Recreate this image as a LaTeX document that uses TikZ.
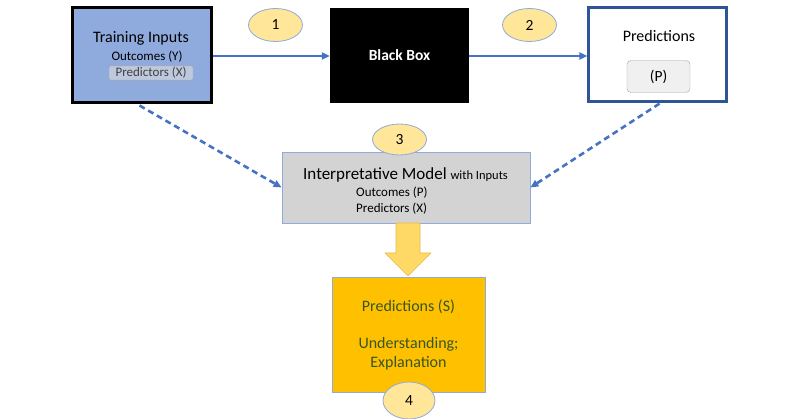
\documentclass[tikz,border=0pt]{standalone}
\usepackage{fontspec}
\setmainfont{Carlito}
\usetikzlibrary{arrows.meta,shapes.geometric}

\definecolor{trainblue}{HTML}{8FAADC}
\definecolor{linkblue}{HTML}{4472C4}
\definecolor{darkblue}{HTML}{2F5597}
\definecolor{stepyellow}{HTML}{FFE699}
\definecolor{modelgray}{HTML}{D3D3D3}
\definecolor{outgold}{HTML}{FFC000}
\definecolor{outgreen}{HTML}{375623}
\definecolor{bigarrow}{HTML}{FFD966}
\definecolor{bigarrowline}{HTML}{E8B84A}

\begin{document}
\begin{tikzpicture}[x=1pt,y=-1pt,
		stepnum/.style={ellipse,draw=trainblue,fill=stepyellow,line width=0.8pt,
			minimum width=54pt,minimum height=33pt,inner sep=0pt,font=\fontsize{15.5}{18}\selectfont},
		link/.style={linkblue,line width=2pt,-{Triangle[length=8pt,width=7pt]}},
		dashlink/.style={link,line width=2.6pt,dash pattern=on 6pt off 4pt}]
			\useasboundingbox (0,0) rectangle (800,419);
			% top row
			\node[draw=black,line width=3pt,fill=trainblue,minimum width=139pt,minimum height=95pt]
				(train) at (141.5,55.5) {};
			\node[font=\fontsize{16}{18}\selectfont] (traintitle) at (141,38) {Training Inputs};
			\node[font=\fontsize{13}{15}\selectfont] (trainout) at (147,57) {Outcomes (Y)};
			\node[draw=gray!70,fill=gray!25,fill opacity=0.6,text opacity=1,text=black!75,rounded corners=2pt,
				inner sep=1.5pt,minimum width=84pt,font=\fontsize{13}{15}\selectfont]
				(trainpred) at (151,73) {Predictors (X)};
			\node[fill=black,minimum width=139pt,minimum height=95pt,text=white,
				font=\bfseries\fontsize{15.5}{18}\selectfont] (box) at (399.5,55.5) {Black Box};
			\node[draw=darkblue,line width=2.2pt,fill=white,minimum width=138pt,minimum height=94pt]
				(pred) at (657.5,54.5) {};
			\node[font=\fontsize{16}{18}\selectfont] (predtitle) at (659,36) {Predictions};
			\node[draw=gray!70,fill=gray!12,rounded corners=4pt,minimum width=63pt,minimum height=32pt,
				font=\fontsize{15.5}{18}\selectfont] (predp) at (658.5,76.5) {(P)};
			\node[stepnum] (one) at (275.5,25) {1};
			\node[stepnum] (two) at (529.5,25) {2};
			\draw[link] (train.east |- 0,56) -- (box.west |- 0,56);
			\draw[link] (box.east |- 0,56) -- (pred.west |- 0,56);
			% interpretative model
			\node[draw=trainblue,line width=0.8pt,fill=modelgray,minimum width=248pt,minimum height=71pt]
				(model) at (406,187.5) {};
			\node[anchor=base west,inner sep=0pt] (modeltitle) at (303,180)
				{\fontsize{17}{20}\selectfont Interpretative Model \fontsize{12.5}{15}\selectfont with Inputs};
			\node[anchor=base west,inner sep=0pt,font=\fontsize{13}{15}\selectfont] (modelout) at (356,197) {Outcomes (P)};
			\node[anchor=base west,inner sep=0pt,font=\fontsize{13}{15}\selectfont] (modelpred) at (356,213) {Predictors (X)};
			\node[stepnum,minimum height=31pt] (three) at (399.5,139.5) {3};
			\draw[dashlink] (train.south) ++(-2,1) -- (model.west);
			\draw[dashlink] (pred.south) ++(2,1) -- (model.east);
			% block arrow down
			\draw[draw=bigarrowline,fill=bigarrow,line width=0.6pt,line join=round]
				(396,223) -- (420,223) -- (420,253) -- (431,253) -- (408,276) -- (385,253) -- (396,253) -- cycle;
			% outcome
			\node[draw=trainblue,line width=0.8pt,fill=outgold,minimum width=153pt,minimum height=115pt,
				text=outgreen,align=center,font=\fontsize{16}{19}\selectfont] (outcome) at (408.5,334.5)
				{Predictions (S)\\[18pt]Understanding;\\Explanation};
			\node[stepnum,minimum width=52pt,minimum height=37pt] (four) at (409,400.5) {4};
		\end{tikzpicture}
\end{document}
